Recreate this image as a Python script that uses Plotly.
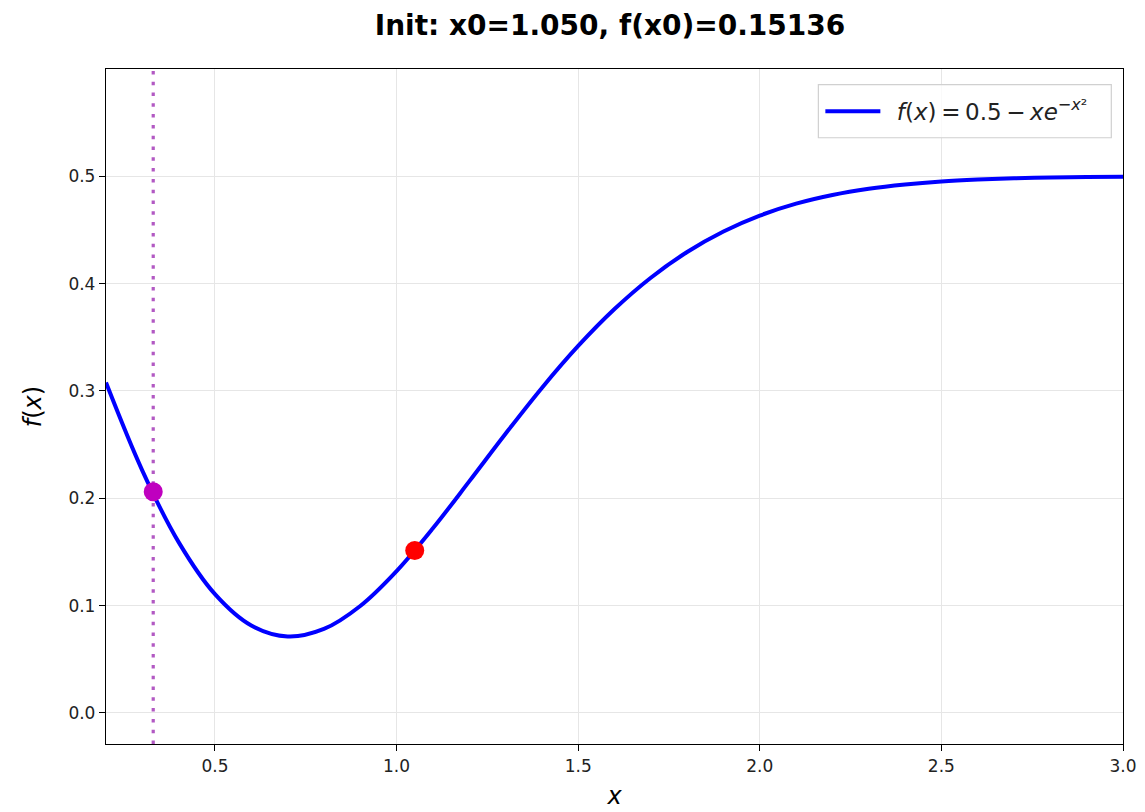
import plotly.graph_objects as go

# Curve samples
x_vals = [0.2, 0.3, 0.4, 0.5, 0.6, 0.7, 0.8, 0.9, 1.0, 1.1, 1.2, 1.3, 1.4, 1.5,
          1.6, 1.7, 1.8, 1.9, 2.0, 2.1, 2.2, 2.3, 2.4, 2.5, 2.6, 2.7, 2.8, 2.9, 3.0]
y_vals = [0.3078, 0.2258, 0.1591, 0.1106, 0.0814, 0.0712, 0.0782, 0.0996, 0.1321,
          0.1720, 0.2157, 0.2601, 0.3028, 0.3419, 0.3763, 0.4055, 0.4295, 0.4486,
          0.4634, 0.4745, 0.4826, 0.4884, 0.4924, 0.4952, 0.4970, 0.4982, 0.4989,
          0.4994, 0.4996]

x0_pt = [1.05]
y0_pt = [0.15136]
x1_pt = [0.33]
y1_pt = [0.206]

x_ticks = [0.5, 1.0, 1.5, 2.0, 2.5, 3.0]
y_ticks = [0.0, 0.1, 0.2, 0.3, 0.4, 0.5]
x_range = [0.2, 3.0]
y_range = [-0.029, 0.600]

title_text = "Init: x0=1.050, f(x0)=0.15136"
legend_label = ("\u2002<i>f</i>(<i>x</i>)\u2009=\u20090.5\u2009\u2212\u2009<i>xe</i>"
                "<sup>\u2212<i>x</i>\u00b2</sup> ")

FONT = "DejaVu Sans"
W, H = 1145, 812
L, R, T, B = 105.5, 22.3, 69.3, 68
PW, PH = W - L - R, H - T - B


def px_x(p):
    return (p - L) / PW


def px_y(p):
    return (H - B - p) / PH


fig = go.Figure()
fig.add_trace(go.Scatter(x=x_vals, y=y_vals, mode="lines", name=legend_label,
                         line=dict(color="rgb(0,0,255)", width=4, shape="spline")))
fig.add_trace(go.Scatter(x=x1_pt, y=y1_pt, mode="markers", showlegend=False,
                         marker=dict(color="rgb(191,0,191)", size=19)))
fig.add_trace(go.Scatter(x=x0_pt, y=y0_pt, mode="markers", showlegend=False,
                         marker=dict(color="rgb(255,0,0)", size=19)))

fig.add_vline(x=x1_pt[0], line=dict(color="rgba(165,60,185,0.85)", width=3.2,
                                    dash="3.5px,7.3px"), layer="below")

# legend frame (semi-transparent like the reference)
fig.add_shape(type="rect", xref="paper", yref="paper",
              x0=px_x(818), x1=px_x(1111), y0=px_y(138), y1=px_y(85),
              line=dict(color="#d0d0d0", width=1.2),
              fillcolor="rgba(255,255,255,0.8)", layer="above")

axis_common = dict(
    showline=True, linecolor="black", linewidth=1.3, mirror=True,
    ticks="outside", ticklen=6, tickwidth=1.3, tickcolor="black",
    showgrid=True, gridcolor="#e6e6e6", gridwidth=1.2, zeroline=False,
    tickfont=dict(family=FONT, size=17, color="#222222"),
)

fig.update_xaxes(range=x_range, tickvals=x_ticks, tickformat=".1f",
                 title=dict(text="<i>x</i>", font=dict(family=FONT, size=24, color="black"),
                            standoff=12),
                 **axis_common)
fig.update_yaxes(range=y_range, tickvals=y_ticks, tickformat=".1f",
                 title=dict(text="<i>f</i>(<i>x</i>)", font=dict(family=FONT, size=24, color="black"),
                            standoff=20),
                 **axis_common)

fig.update_layout(
    width=W, height=H,
    margin=dict(l=L, r=R, t=T, b=B, autoexpand=False),
    plot_bgcolor="white", paper_bgcolor="white",
    title=dict(text="<b>" + title_text + "</b>", x=610 / W, xanchor="center",
               y=1 - 25 / H, yanchor="middle",
               font=dict(family=FONT, size=28, color="black")),
    legend=dict(x=px_x(820), xanchor="left", y=px_y(111.5), yanchor="middle",
                bgcolor="rgba(0,0,0,0)", borderwidth=0, itemwidth=55,
                font=dict(family=FONT, size=23, color="#222222")),
    showlegend=True,
)

fig.write_html("out.html")
